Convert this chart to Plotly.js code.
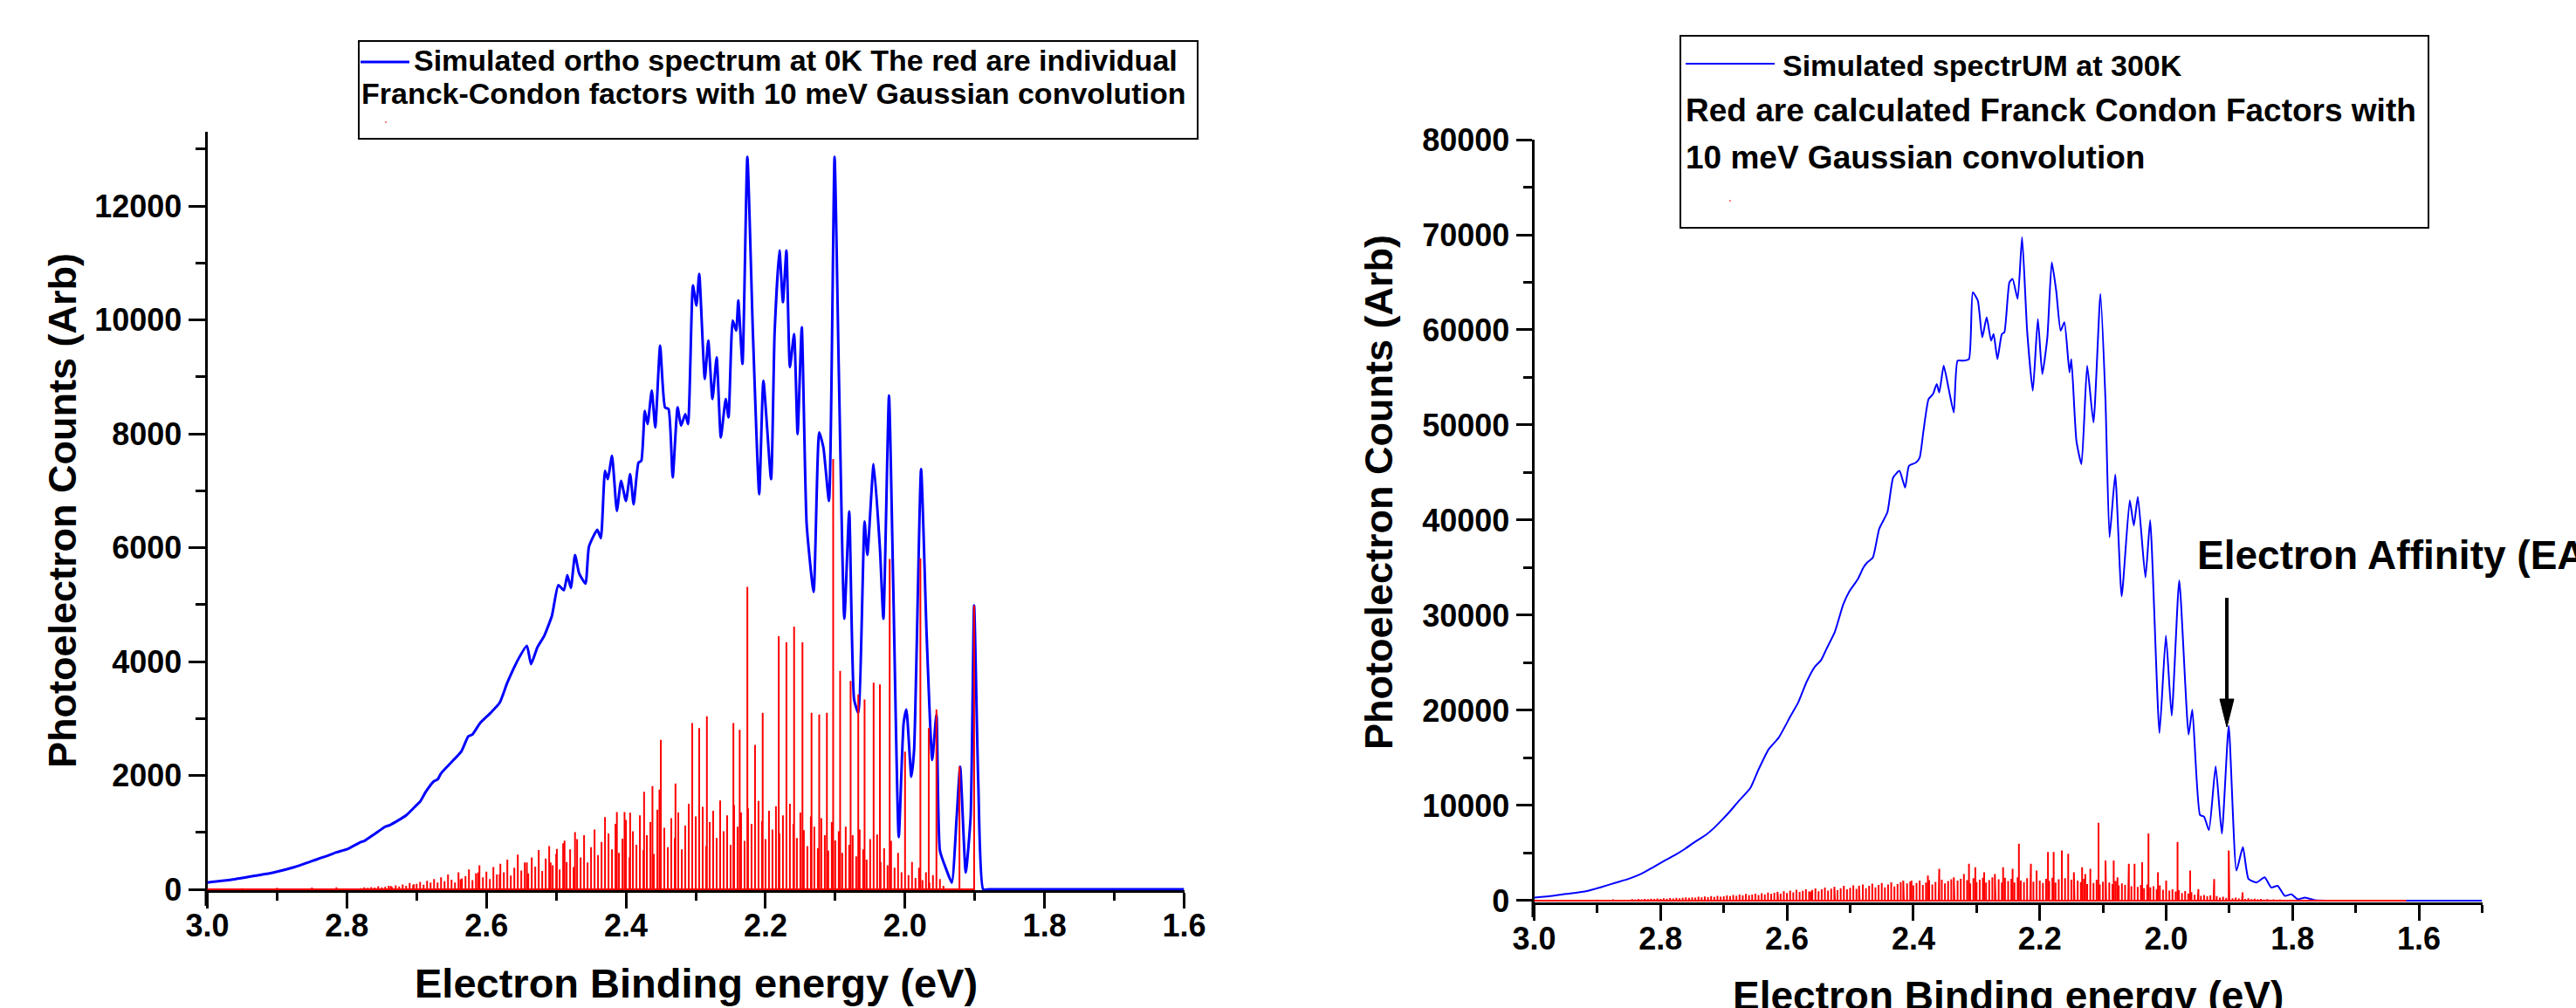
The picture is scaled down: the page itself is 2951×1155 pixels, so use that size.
<!DOCTYPE html>
<html><head><meta charset="utf-8">
<script src="https://cdn.plot.ly/plotly-3.0.1.min.js"></script>
<style>html,body{margin:0;padding:0;background:#fff;overflow:hidden}#chart{width:2951px;height:1155px}</style>
</head><body><div id="chart"></div>
<script>
// ---------- LEFT PANEL (0 K) ----------
const leftBlueE = [3.000,2.961,2.930,2.905,2.875,2.849,2.830,2.815,2.799,2.780,2.775,2.760,2.745,2.738,2.715,2.700,2.695,2.687,2.675,2.670,2.665,2.655,2.648,2.636,2.626,2.620,2.609,2.594,2.581,2.570,2.553,2.542,2.536,2.527,2.517,2.506,2.497,2.489,2.484,2.479,2.473,2.467,2.458,2.453,2.441,2.436,2.430,2.426,2.420,2.413,2.407,2.400,2.394,2.389,2.382,2.378,2.373,2.369,2.363,2.358,2.351,2.344,2.339,2.333,2.326,2.321,2.315,2.311,2.304,2.299,2.295,2.287,2.282,2.276,2.270,2.264,2.257,2.253,2.247,2.242,2.239,2.233,2.226,2.218,2.209,2.203,2.192,2.187,2.180,2.175,2.170,2.165,2.159,2.154,2.148,2.141,2.131,2.123,2.117,2.109,2.101,2.095,2.087,2.080,2.073,2.067,2.058,2.054,2.045,2.036,2.031,2.023,2.017,2.009,2.002,1.998,1.991,1.987,1.977,1.969,1.961,1.955,1.950,1.941,1.933,1.926,1.921,1.913,1.906,1.901,1.895,1.888,1.880,1.860,1.800,1.700,1.600];
const leftBlueI = [118,177,240,295,390,501,580,650,708,830,850,973,1100,1130,1298,1480,1540,1711,1900,1930,2036,2170,2260,2420,2685,2720,2920,3098,3275,3629,4071,4278,3953,4248,4455,4809,5340,5251,5517,5292,5871,5546,5369,6018,6313,6166,7349,7202,7613,6645,7173,6821,7290,6762,7495,7525,8404,8170,8757,8111,9548,8463,8434,7232,8463,8141,8346,8170,10604,10252,10809,8962,9636,8610,9343,7935,8610,8287,9988,9812,10340,9226,12862,9753,6938,8933,7202,9753,11220,10311,11220,9167,9753,7994,9871,6410,5222,8023,7759,6821,12862,9167,4750,6638,3334,3098,6461,5871,7466,5989,4750,8669,5399,915,2921,3157,1977,2449,7378,4455,2272,3068,679,354,118,1269,2154,295,1269,4986,1859,0,0,0,0,0,0];

// individual Franck-Condon factors (sticks)
const leftStickE = [3.000,2.950,2.900,2.850,2.815,2.737,2.704,2.670,2.637,2.612,2.581,2.555,2.542,2.525,2.508,2.499,2.488,2.473,2.430,2.413,2.402,2.394,2.374,2.362,2.352,2.350,2.329,2.305,2.295,2.284,2.246,2.237,2.226,2.215,2.204,2.181,2.170,2.159,2.147,2.134,2.123,2.112,2.103,2.093,2.078,2.067,2.058,2.045,2.036,2.022,2.000,1.978,1.966,1.955,1.922,1.901];
const leftStickI = [15,20,25,30,35,59,89,118,177,295,266,443,472,472,472,708,856,1003,1269,1357,1357,1345,1711,1811,1752,2625,1859,2920,2832,3039,2920,2802,5310,2537,3098,4443,4337,4614,4337,3098,3068,3098,7554,3835,3658,3422,3334,3629,3599,5800,2419,5812,2832,3157,2154,4986];
const leftGrassE = [2.780,2.775,2.770,2.765,2.760,2.755,2.750,2.745,2.740,2.735,
2.730,2.725,2.720,2.715,2.710,2.705,2.700,2.695,2.690,2.685,
2.680,2.675,2.670,2.665,2.660,2.655,2.650,2.645,2.640,2.635,
2.630,2.625,2.620,2.615,2.610,2.605,2.600,2.595,2.590,2.585,
2.580,2.575,2.570,2.565,2.560,2.555,2.550,2.545,2.540,2.535,
2.530,2.525,2.520,2.515,2.510,2.505,2.500,2.495,2.490,2.485,
2.480,2.475,2.470,2.465,2.460,2.455,2.450,2.445,2.440,2.435,
2.430,2.425,2.420,2.415,2.410,2.405,2.400,2.395,2.390,2.385,
2.380,2.375,2.370,2.365,2.360,2.355,2.350,2.345,2.340,2.335,
2.330,2.325,2.320,2.315,2.310,2.305,2.300,2.295,2.290,2.285,
2.280,2.275,2.270,2.265,2.260,2.255,2.250,2.245,2.240,2.235,
2.230,2.225,2.220,2.215,2.210,2.205,2.200,2.195,2.190,2.185,
2.180,2.175,2.170,2.165,2.160,2.155,2.150,2.145,2.140,2.135,
2.130,2.125,2.120,2.115,2.110,2.105,2.100,2.095,2.090,2.085,
2.080,2.075,2.070,2.065,2.060,2.055,2.050,2.045,2.040,2.035,
2.030,2.025,2.020,2.015,2.010,2.005,2.000,1.995,1.990,1.985,
1.980,1.975,1.970,1.965,1.960,1.955,1.950,1.945];
const leftGrassI = [20,35,25,40,30,55,35,45,60,40,
70,50,85,60,110,75,95,130,80,150,
120,180,95,210,140,260,170,120,300,190,
230,350,160,280,420,210,310,180,390,260,
450,300,520,240,380,610,330,470,280,560,
400,690,320,540,760,420,620,350,810,480,
700,390,880,560,950,470,740,1050,600,830,
520,980,700,1150,640,890,1220,560,1020,780,
1300,690,950,1180,620,1400,860,1080,740,1250,
900,1350,700,1120,1500,820,1280,1030,1450,760,
1180,1380,900,1560,1020,1300,780,1480,1100,1350,
850,1420,1150,960,1550,1200,880,1380,1050,1460,
980,1300,820,1500,1150,900,1350,1040,760,1280,
1100,720,1250,950,680,1180,860,1020,640,1100,
780,950,580,1050,700,520,880,640,960,480,
720,420,850,380,640,300,560,250,480,200,
380,160,300,120,250,90,180,60];

// ---------- RIGHT PANEL (300 K) ----------
const rightBlueE = [3.000,2.971,2.950,2.920,2.895,2.869,2.850,2.831,2.812,2.793,2.777,2.761,2.745,2.729,2.716,2.703,2.690,2.677,2.658,2.645,2.629,2.613,2.594,2.582,2.569,2.556,2.546,2.537,2.524,2.511,2.501,2.488,2.479,2.473,2.464,2.454,2.441,2.432,2.422,2.413,2.407,2.396,2.390,2.384,2.376,2.369,2.363,2.359,2.352,2.344,2.336,2.330,2.320,2.312,2.306,2.298,2.291,2.284,2.277,2.273,2.267,2.260,2.256,2.248,2.243,2.235,2.228,2.220,2.211,2.203,2.196,2.188,2.181,2.174,2.167,2.161,2.153,2.150,2.142,2.134,2.125,2.115,2.104,2.096,2.0896,2.0806,2.0704,2.0576,2.0512,2.0448,2.0328,2.0253,2.0106,2.0004,1.9913,1.9793,1.9645,1.9586,1.9464,1.940,1.9323,1.9217,1.9119,1.9010,1.8888,1.8786,1.8697,1.8569,1.8441,1.8339,1.8237,1.8122,1.802,1.7918,1.7803,1.7637,1.7445,1.720,1.680,1.600,1.500];
const rightBlueI = [326,503,700,963,1400,1919,2300,2804,3500,4220,4800,5459,6200,6875,7600,8468,9400,10415,11831,13778,15902,17141,19443,20859,22983,24576,25284,26523,28293,31125,32541,33780,35019,35550,36081,39090,40853,44472,45174,43419,45700,46051,46578,49386,52720,53247,54300,53422,56230,53773,51316,56757,56757,56932,63952,63075,59214,61320,58863,59565,56932,59565,59740,65005,65356,63250,69744,59916,53598,61144,55353,59214,67111,64128,59916,60793,55528,56932,48333,45876,56230,50263,63777,52545,38197,44800,32000,42090,39435,42444,33976,40000,17614,27862,19449,33670,17458,20091,8993,8816,7400,14128,7046,18376,3154,5628,2272,1912,2443,1381,1558,496,672,142,319,42,0,0,0,0,0];

const rightStickE = [3.000,2.950,2.900,2.875,2.665,2.614,2.562,2.524,2.486,2.460,2.435,2.416,2.403,2.377,2.359,2.336,2.320,2.312,2.302,2.288,2.271,2.258,2.243,2.233,2.214,2.205,2.187,2.178,2.165,2.155,2.146,2.133,2.128,2.120,2.107,2.096,2.083,2.077,2.059,2.050,2.038,2.028,2.013,2.000,1.982,1.962,1.949,1.924,1.901,1.879,1.790,1.760,1.730,1.700,1.670,1.640,1.620];
const rightStickI = [60,80,110,130,503,750,963,1211,1565,1388,1919,2096,2096,2627,3335,2450,2804,3866,3512,2981,2804,3512,3335,5989,3866,3158,5105,5105,5282,4928,2981,3512,2804,3335,8184,4220,4220,2450,3866,3866,4043,7052,2981,2096,6167,3158,1211,2272,5282,857,90,50,30,20,15,10,5];
const rightGrassE = [2.850,2.845,2.840,2.835,2.830,2.825,2.820,2.815,2.810,2.805,
2.800,2.795,2.790,2.785,2.780,2.775,2.770,2.765,2.760,2.755,
2.750,2.745,2.740,2.735,2.730,2.725,2.720,2.715,2.710,2.705,
2.700,2.695,2.690,2.685,2.680,2.675,2.670,2.665,2.660,2.655,
2.650,2.645,2.640,2.635,2.630,2.625,2.620,2.615,2.610,2.605,
2.600,2.595,2.590,2.585,2.580,2.575,2.570,2.565,2.560,2.555,
2.550,2.545,2.540,2.535,2.530,2.525,2.520,2.515,2.510,2.505,
2.500,2.495,2.490,2.485,2.480,2.475,2.470,2.465,2.460,2.455,
2.450,2.445,2.440,2.435,2.430,2.425,2.420,2.415,2.410,2.405,
2.400,2.395,2.390,2.385,2.380,2.375,2.370,2.365,2.360,2.355,
2.350,2.345,2.340,2.335,2.330,2.325,2.320,2.315,2.310,2.305,
2.300,2.295,2.290,2.285,2.280,2.275,2.270,2.265,2.260,2.255,
2.250,2.245,2.240,2.235,2.230,2.225,2.220,2.215,2.210,2.205,
2.200,2.195,2.190,2.185,2.180,2.175,2.170,2.165,2.160,2.155,
2.150,2.145,2.140,2.135,2.130,2.125,2.120,2.115,2.110,2.105,
2.100,2.095,2.090,2.085,2.080,2.075,2.070,2.065,2.060,2.055,
2.050,2.045,2.040,2.035,2.030,2.025,2.020,2.015,2.010,2.005,
2.000,1.995,1.990,1.985,1.980,1.975,1.970,1.965,1.960,1.955,
1.950,1.945,1.940,1.935,1.930,1.925,1.920,1.915,1.910,1.905,
1.900,1.895,1.890,1.885,1.880,1.875,1.870,1.865,1.860,1.855,
1.850,1.845,1.840,1.835,1.830,1.825,1.820,1.815];
const rightGrassI = [100,150,120,170,140,190,160,210,180,220,
190,250,210,280,230,300,260,290,340,300,
350,310,400,340,430,360,470,390,500,420,
450,550,470,600,500,650,540,700,580,630,
720,600,780,650,850,700,820,920,730,980,
800,1050,860,1150,920,1020,1200,950,1120,1280,
980,1180,1380,1050,1250,1450,1100,1300,1550,1180,
1350,1600,1230,1480,1700,1300,1550,1780,1380,1650,
1850,1400,1700,1900,1480,1750,1950,1530,1800,2000,
1600,1850,2100,1650,1900,2150,1700,1980,1750,2200,
1800,2050,2250,1750,2100,2300,1850,2150,1800,2350,
1950,2200,2400,1900,2150,2450,2000,2250,1900,2400,
2050,2300,1900,2450,2100,1950,2350,2150,2000,2400,
2100,1850,2300,2050,2400,1900,2250,2000,2350,1850,
2200,1800,2100,1950,2300,1750,2050,1850,2200,1700,
2000,1650,1900,1750,2050,1600,1800,1650,1950,1500,
1750,1450,1650,1300,1700,1400,1500,1200,1600,1150,
1300,1050,1200,950,1100,800,1000,750,880,620,
700,500,600,450,550,380,480,320,420,300,
350,260,310,220,280,190,250,160,210,140,
180,120,160,100,130,80,110,60];

const xTickStep = 0.2, xMinorStep = 0.1;
const legendLeft = ['Simulated ortho spectrum at 0K The red are individual','Franck-Condon factors with 10 meV Gaussian convolution'];
const legendRight = ['Simulated spectrUM at 300K','Red are calculated Franck Condon Factors with','10 meV Gaussian convolution'];
const yTitle = 'Photoelectron Counts (Arb)';
const xTitle = 'Electron Binding energy (eV)';
const eaLabel = 'Electron Affinity (EA)';

// ---------- helpers ----------
const W = 2951, H = 1155;
const PX = X => X / W, PY = Y => 1 - Y / H;
function stickPath(xs, hs) {
  const idx = xs.map((_, i) => i).sort((a, b) => xs[b] - xs[a]);
  const X = [], Y = [];
  idx.forEach(i => { X.push(xs[i], xs[i], xs[i]); Y.push(0, hs[i], 0); });
  return {X, Y};
}
const leftSt = stickPath(leftStickE.concat(leftGrassE), leftStickI.concat(leftGrassI));
const rightSt = stickPath(rightStickE.concat(rightGrassE), rightStickI.concat(rightGrassI));

const SANS = 'Liberation Sans, Arial, sans-serif';
const tickFont = {family: SANS, size: 36, weight: 'bold', color: 'black'};
function xAx(d0, d1, r, anchor, standoff) {
  return {domain: [PX(d0), PX(d1)], range: r, anchor: anchor, showgrid: false, zeroline: false,
    showline: true, linecolor: 'black', linewidth: 3, layer: 'below traces',
    ticks: 'outside', ticklen: 18, tickwidth: 3, tickcolor: 'black', tick0: 0, dtick: xTickStep,
    tickformat: '.1f', tickfont: tickFont, ticklabelstandoff: standoff,
    minor: {ticks: 'outside', tick0: 0, dtick: xMinorStep, ticklen: 9, tickwidth: 3, tickcolor: 'black'}};
}
function yAx(top, bottom, r, anchor, dt, mdt, tl, mtl) {
  return {domain: [PY(bottom), PY(top)], range: r, anchor: anchor, showgrid: false, zeroline: false,
    showline: true, linecolor: 'black', linewidth: 3, layer: 'below traces',
    ticks: 'outside', ticklen: tl, tickwidth: 3, tickcolor: 'black', tick0: 0, dtick: dt,
    tickformat: 'd', tickfont: tickFont,
    minor: {ticks: 'outside', tick0: 0, dtick: mdt, ticklen: mtl, tickwidth: 3, tickcolor: 'black'}};
}

const traces = [
  {x: leftBlueE, y: leftBlueI, xaxis: 'x', yaxis: 'y', mode: 'lines', line: {color: '#0000FF', width: 3, shape: 'spline', smoothing: 0.5}, hoverinfo: 'skip'},
  {x: leftSt.X, y: leftSt.Y, xaxis: 'x', yaxis: 'y', mode: 'lines', line: {color: '#FF0000', width: 2}, hoverinfo: 'skip'},
  {x: rightBlueE, y: rightBlueI, xaxis: 'x2', yaxis: 'y2', mode: 'lines', line: {color: '#0000FF', width: 2, shape: 'spline', smoothing: 0.5}, hoverinfo: 'skip'},
  {x: rightSt.X, y: rightSt.Y, xaxis: 'x2', yaxis: 'y2', mode: 'lines', line: {color: '#FF0000', width: 2}, hoverinfo: 'skip'}
];

const ann = (text, X, Y, size, extra) => Object.assign({text: text, x: PX(X), y: PY(Y), xref: 'paper', yref: 'paper',
  showarrow: false, xanchor: 'left', yanchor: 'middle', font: {family: SANS, size: size, weight: 'bold', color: 'black'}}, extra || {});

const annotations = [
  ann(yTitle, 72, 585, 45, {textangle: -90, xanchor: 'center'}),
  ann(yTitle, 1580, 564, 45, {textangle: -90, xanchor: 'center'}),
  ann(xTitle, 797, 1126, 47, {xanchor: 'center'}),
  ann(xTitle, 2300, 1141, 46, {xanchor: 'center'}),
  ann(legendLeft[0], 472, 69, 34),
  ann(legendLeft[1], 412, 107, 34),
  ann(legendRight[0], 2040, 75, 34),
  ann(legendRight[1], 1929, 127, 37),
  ann(legendRight[2], 1929, 180, 37),
  ann(eaLabel, 2515, 636, 46)
];

const L = (x0, y0, x1, y1, color, w) => ({type: 'line', xref: 'paper', yref: 'paper', x0: PX(x0), y0: PY(y0), x1: PX(x1), y1: PY(y1), line: {color: color, width: w}});
const shapes = [
  {type: 'rect', xref: 'paper', yref: 'paper', x0: PX(411), x1: PX(1372), y0: PY(159), y1: PY(47), line: {color: 'black', width: 2}},
  {type: 'rect', xref: 'paper', yref: 'paper', x0: PX(1925), x1: PX(2782), y0: PY(261), y1: PY(41), line: {color: 'black', width: 2}},
  L(413, 71, 469, 71, '#0000FF', 3),
  L(1931, 73, 2033, 73, '#0000FF', 2),
  L(441, 140, 443, 140, '#FF0000', 1),
  L(1981, 230, 1983, 230, '#FF0000', 1),
  L(236, 1020, 236, 1038, 'black', 3),
  L(1756, 1033, 1756, 1051, 'black', 3),
  L(2551, 685, 2551, 806, 'black', 4),
  {type: 'path', xref: 'paper', yref: 'paper', path: `M ${PX(2543)},${PY(801)} L ${PX(2559)},${PY(801)} L ${PX(2551)},${PY(833)} Z`, fillcolor: 'black', line: {color: 'black', width: 1}}
];

const layout = {
  width: W, height: H, margin: {l: 0, r: 0, t: 0, b: 0}, paper_bgcolor: 'white', plot_bgcolor: 'white',
  showlegend: false, font: {family: SANS, color: 'black'},
  xaxis: xAx(237.5, 1356.5, [3.0, 1.6], 'y', -12),
  yaxis: yAx(151.2, 1020.3, [-20, 13300], 'x', 2000, 1000, 19, 11),
  xaxis2: xAx(1757.5, 2843.5, [3.0, 1.5], 'y2', -10),
  yaxis2: yAx(160, 1033.6, [-150, 80000], 'x2', 10000, 5000, 18, 10),
  annotations: annotations, shapes: shapes
};
Plotly.newPlot('chart', traces, layout, {staticPlot: true, displayModeBar: false});
</script></body></html>
